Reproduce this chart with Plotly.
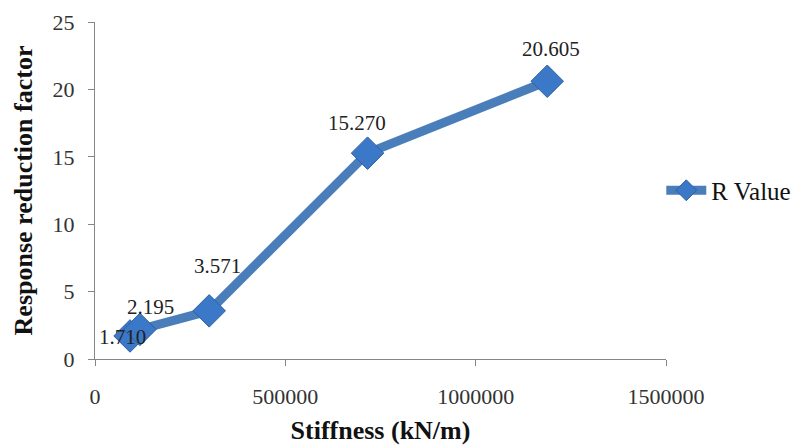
import plotly.graph_objects as go

stiffness = [92000, 118000, 300000, 716000, 1188000]
r_values = [1.710, 2.195, 3.571, 15.270, 20.605]
labels = ["1.710", "2.195", "3.571", "15.270", "20.605"]
label_dx = [-8, 11, 8, -11, 4]
label_dy = [-1, 22, 45, 30, 32]

x_ticks = [0, 500000, 1000000, 1500000]
y_ticks = [0, 5, 10, 15, 20, 25]

line_color = "#4a7ebb"
marker_color = "#3c78c8"
font_family = "Liberation Serif, Times New Roman, serif"

fig = go.Figure()
fig.add_trace(go.Scatter(
    x=stiffness, y=r_values, mode="lines+markers", name="R Value",
    line=dict(color=line_color, width=9),
    marker=dict(symbol="diamond", size=25, color=marker_color,
                line=dict(color="#2f5f9e", width=1)),
))

for x, y, t, dx, dy in zip(stiffness, r_values, labels, label_dx, label_dy):
    fig.add_annotation(x=x, y=y, text=t, showarrow=False, xshift=dx, yshift=dy,
                       font=dict(family=font_family, size=21, color="#222"))

axis_common = dict(
    showgrid=False, zeroline=False, showline=True, linecolor="#868686", linewidth=1,
    ticks="outside", ticklen=6, tickcolor="#868686", automargin=False,
    tickfont=dict(family=font_family, size=22, color="#333"),
)

fig.update_xaxes(range=[0, 1500000], tickvals=x_ticks,
                 ticktext=[str(v) for v in x_ticks], ticklabelstandoff=12,
                 title=dict(text="<b>Stiffness (kN/m)</b>", standoff=12,
                            font=dict(family=font_family, size=26, color="#111")),
                 **axis_common)
fig.update_yaxes(range=[0, 25], tickvals=y_ticks, ticklabelstandoff=9,
                 title=dict(text="<b>Response reduction factor</b>", standoff=12,
                            font=dict(family=font_family, size=26, color="#111")),
                 **axis_common)

fig.update_layout(
    width=799, height=446,
    margin=dict(l=87, r=140, t=14, b=95),
    paper_bgcolor="white", plot_bgcolor="white",
    showlegend=True,
    legend=dict(x=0.99, y=0.5, xanchor="left", yanchor="middle",
                font=dict(family=font_family, size=25, color="#111"),
                itemwidth=40, bgcolor="rgba(0,0,0,0)"),
)

fig.write_html("out.html")
